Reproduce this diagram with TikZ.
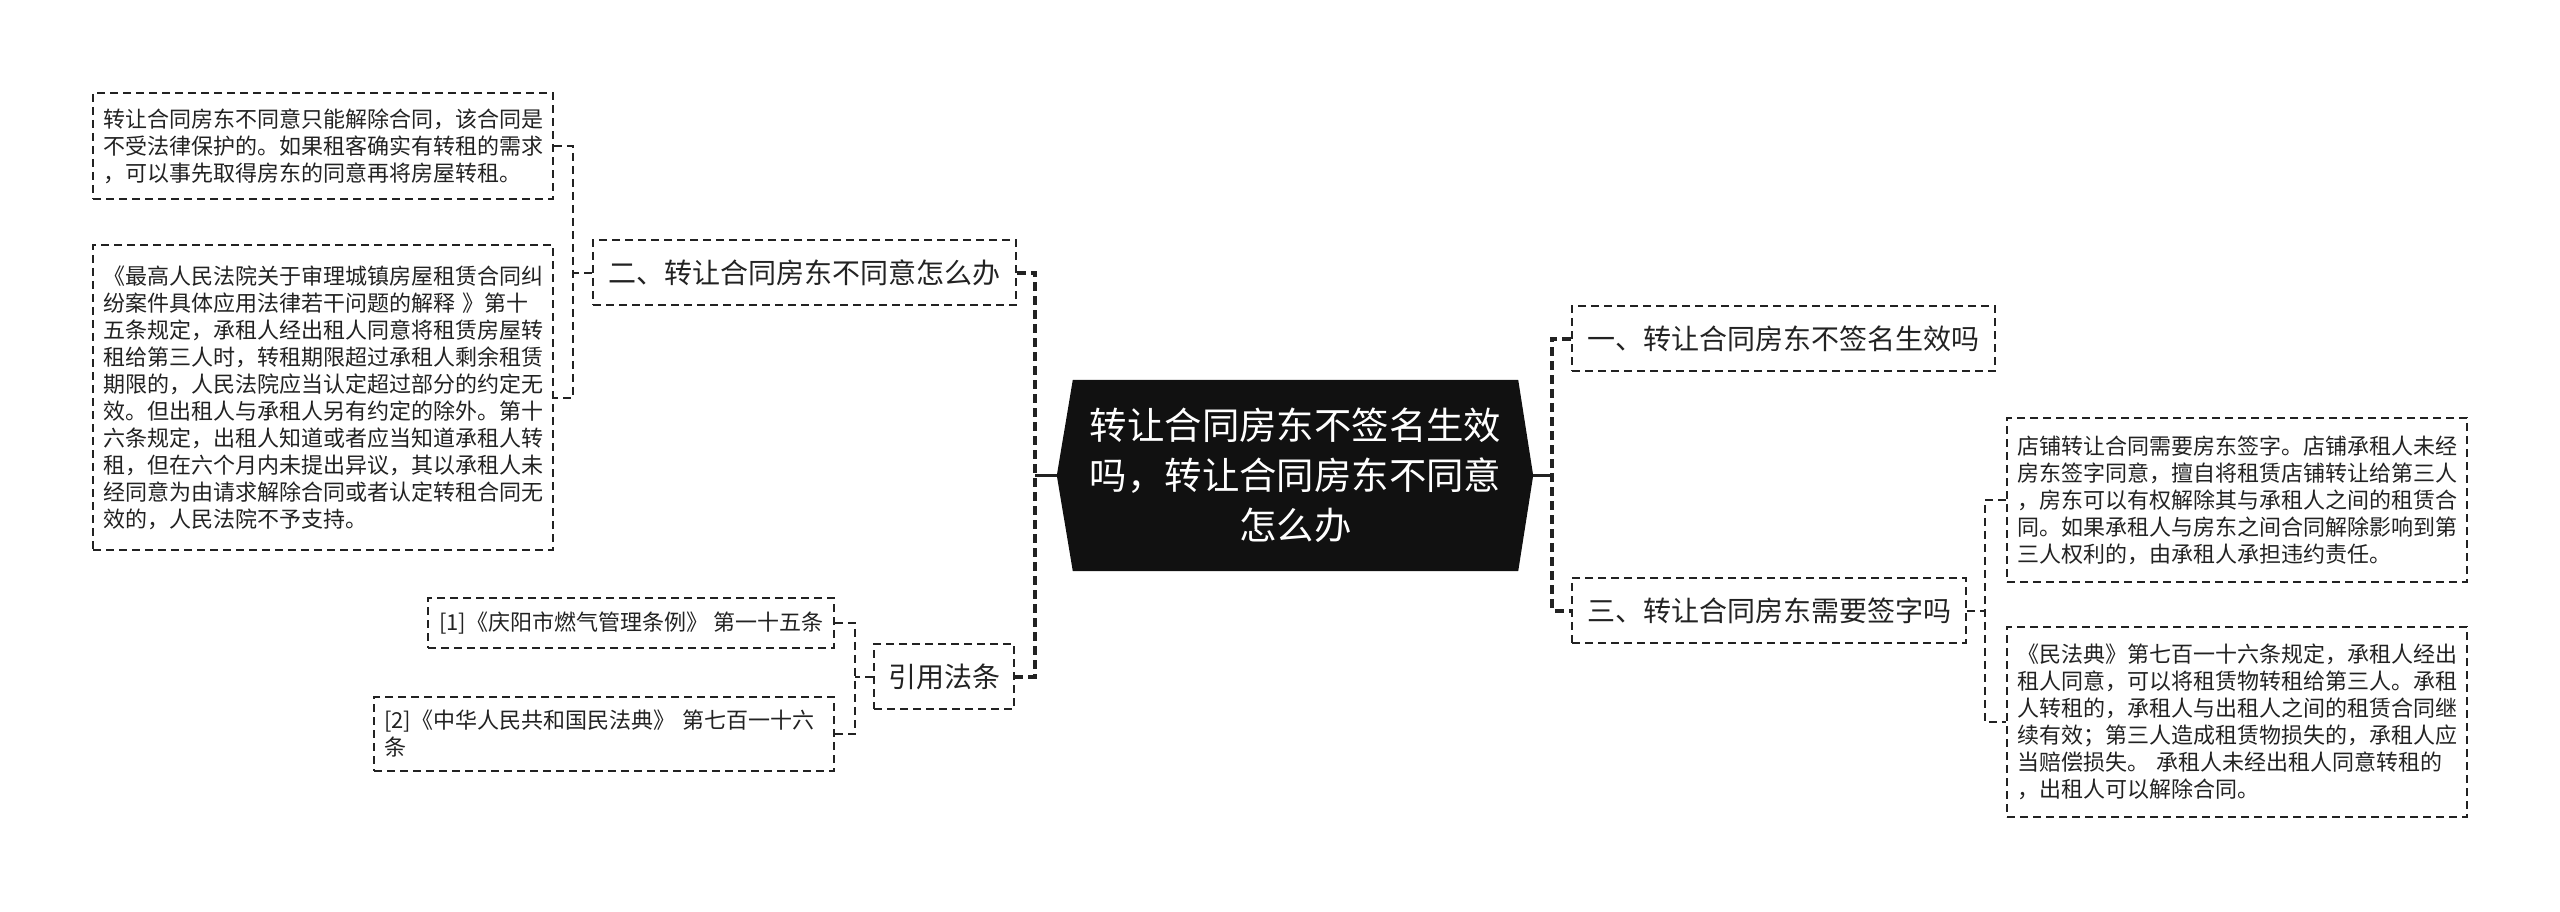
\documentclass[tikz,border=0pt]{standalone}
\usepackage{fontspec}
\newfontfamily\cjk{Noto Sans CJK SC}
\usetikzlibrary{backgrounds,calc}
\definecolor{ink}{HTML}{222222}
\definecolor{rootfill}{HTML}{111111}
\begin{document}
\begin{tikzpicture}[x=1pt,y=-1pt,
  leafbox/.style={draw=ink, line width=1.8pt, dash pattern=on 8pt off 5pt, rectangle, inner sep=0pt,
    font=\cjk\fontsize{22pt}{27pt}\selectfont, text=ink, align=left},
  topicbox/.style={draw=ink, line width=1.8pt, dash pattern=on 8pt off 5pt, rectangle, inner sep=0pt,
    font=\cjk\fontsize{28pt}{34pt}\selectfont, text=ink, align=center, minimum height=65pt},
  rootbox/.style={inner sep=0pt, font=\cjk\fontsize{37.4pt}{50pt}\selectfont, text=white, align=center,
    minimum width=445pt, minimum height=191pt, text width=430pt},
  mainlink/.style={draw=ink, line width=4pt, dash pattern=on 9pt off 5pt},
  stemlink/.style={draw=ink, line width=2.5pt},
  sublink/.style={draw=ink, line width=2pt, dash pattern=on 8pt off 5pt}
]
\useasboundingbox (0,0) rectangle (2560,912);

% root
\node[rootbox] (root) at (1295.5,475.5) {转让合同房东不签名生效\\吗，转让合同房东不同意\\怎么办};
\begin{scope}[on background layer]
  \fill[rootfill] (root.north west) -- (root.north east) -- ([xshift=15pt]root.east) -- (root.south east)
    -- (root.south west) -- ([xshift=-16pt]root.west) -- cycle;
\end{scope}
\coordinate (rootW) at ([xshift=-16pt]root.west);
\coordinate (rootE) at ([xshift=15pt]root.east);

% left topics
\node[topicbox, minimum width=423pt] (er) at (804.5,272.5) {二、转让合同房东不同意怎么办};
\node[topicbox, minimum width=140pt] (yin) at (944,676.5) {引用法条};

% right topics
\node[topicbox, minimum width=423pt] (yi) at (1783.5,338.5) {一、转让合同房东不签名生效吗};
\node[topicbox, minimum width=394pt] (san) at (1769,610.5) {三、转让合同房东需要签字吗};

% left leaves
\node[leafbox, minimum width=460pt, minimum height=106pt, text width=440pt] (b1) at (323,146)
  {转让合同房东不同意只能解除合同，该合同是\\不受法律保护的。如果租客确实有转租的需求\\，可以事先取得房东的同意再将房屋转租。};
\node[leafbox, minimum width=460pt, minimum height=305pt, text width=440pt] (b2) at (323,397.5)
  {《最高人民法院关于审理城镇房屋租赁合同纠\\纷案件具体应用法律若干问题的解释 》第十\\五条规定，承租人经出租人同意将租赁房屋转\\租给第三人时，转租期限超过承租人剩余租赁\\期限的，人民法院应当认定超过部分的约定无\\效。但出租人与承租人另有约定的除外。第十\\六条规定，出租人知道或者应当知道承租人转\\租，但在六个月内未提出异议，其以承租人未\\经同意为由请求解除合同或者认定转租合同无\\效的，人民法院不予支持。};

% citations
\node[leafbox, minimum width=406pt, minimum height=50pt] (c1) at (631,623)
  {[1]《庆阳市燃气管理条例》 第一十五条};
\node[leafbox, minimum width=460pt, minimum height=74pt, text width=440pt] (c2) at (604,734)
  {[2]《中华人民共和国民法典》 第七百一十六\\条};

% right leaves
\node[leafbox, minimum width=460pt, minimum height=164pt, text width=440pt] (r1) at (2237,500)
  {店铺转让合同需要房东签字。店铺承租人未经\\房东签字同意，擅自将租赁店铺转让给第三人\\，房东可以有权解除其与承租人之间的租赁合\\同。如果承租人与房东之间合同解除影响到第\\三人权利的，由承租人承担违约责任。};
\node[leafbox, minimum width=460pt, minimum height=190pt, text width=440pt] (r2) at (2237,722)
  {《民法典》第七百一十六条规定，承租人经出\\租人同意，可以将租赁物转租给第三人。承租\\人转租的，承租人与出租人之间的租赁合同继\\续有效；第三人造成租赁物损失的，承租人应\\当赔偿损失。 承租人未经出租人同意转租的\\，出租人可以解除合同。};

% main connectors
\draw[stemlink] (rootW) -- (rootW -| 1035,0);
\draw[mainlink] (er.east) -| (1035,676.5) -- (yin.east);
\draw[stemlink] (rootE) -- (rootE -| 1552,0);
\draw[mainlink] (yi.west) -| (1552,610.5) -- (san.west);

% sub connectors
\draw[sublink] (b1.east) -| (573,397.5) -- (b2.east);
\draw[sublink] (er.west) -- (er.west -| 573,0);
\draw[sublink] (c1.east) -| (855,734) -- (c2.east);
\draw[sublink] (yin.west) -- (yin.west -| 855,0);
\draw[sublink] (r1.west) -| (1985,722) -- (r2.west);
\draw[sublink] (san.east) -- (san.east -| 1985,0);
\end{tikzpicture}
\end{document}
